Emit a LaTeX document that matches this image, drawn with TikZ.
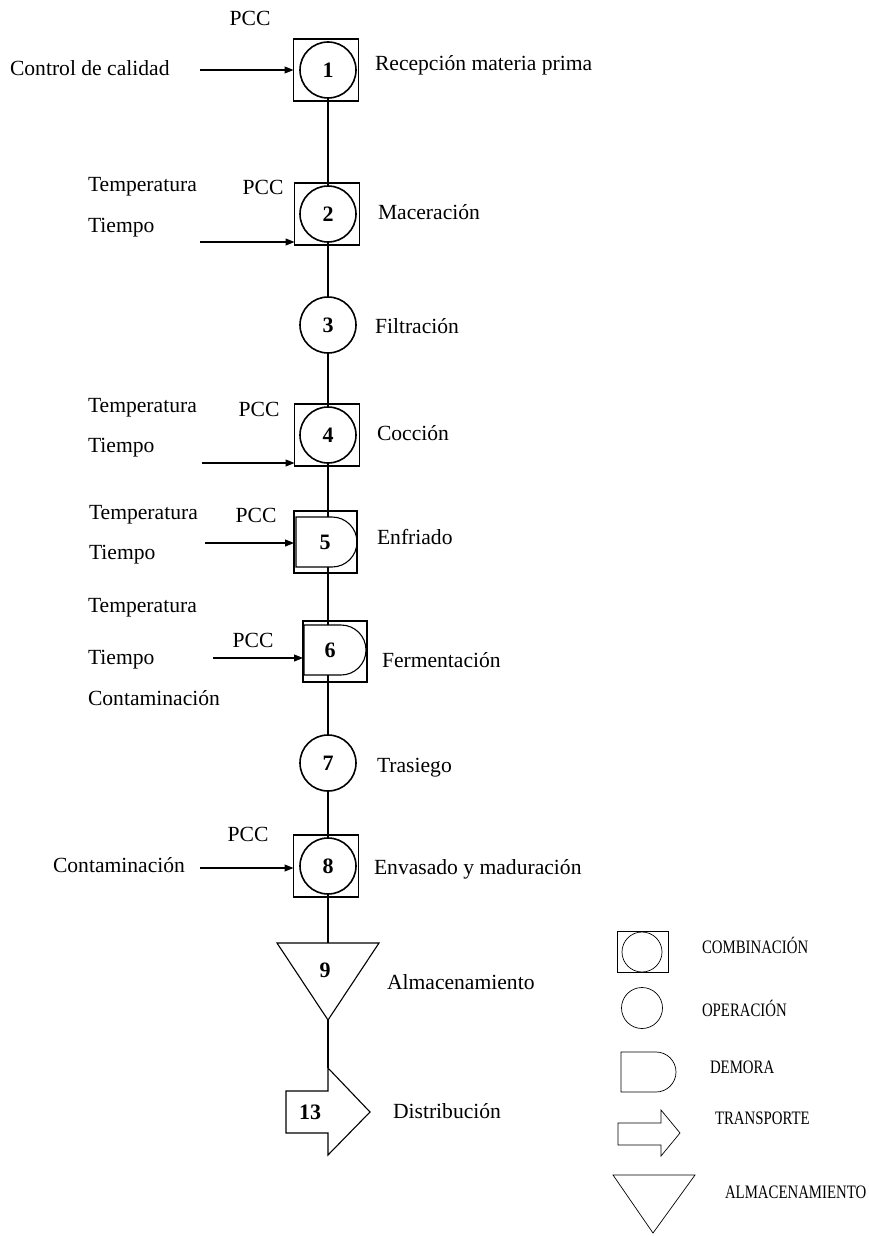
\documentclass[tikz,border=0pt]{standalone}
\usepackage{fontspec}
\setmainfont{Liberation Serif}
\usepackage{graphicx}
\usetikzlibrary{arrows.meta}
\begin{document}
\begin{tikzpicture}[x=1pt,y=-1pt,
  every node/.style={inner sep=0pt,outer sep=0pt},
  txt/.style={font=\fontsize{21.6}{24}\selectfont,anchor=west},
  pcc/.style={font=\fontsize{21.6}{24}\selectfont},
  num/.style={font=\fontsize{22}{24}\selectfont\bfseries},
  op/.style={circle,draw,line width=1.6pt,minimum size=56pt,num},
  sq/.style={draw,line width=1.1pt,minimum width=65pt,minimum height=62pt},
  shp/.style={draw,line width=1.1pt},
  conn/.style={line width=1.1pt},
  arr/.style={line width=1.1pt,-{Triangle[length=9pt,width=7pt]}},
  leg/.style={draw,line width=0.7pt},
  legtxt/.style={font=\fontsize{19}{22}\selectfont,anchor=west}]
\useasboundingbox (0,0) rectangle (868,1236);
% node 1
\node[sq] (s1) at (326,70) {};
\node[op] (c1) at (328,70) {1};
\node[pcc] (p1) at (250,18) {PCC};
\node[txt] (t1) at (10,68) {Control de calidad};
\node[txt] (l1) at (375,65) {Recepción materia prima};
\coordinate (a1) at (200,70);
\draw[arr] (a1) -- (a1 -| s1.west);
% node 2
\node[sq] (s2) at (327,214) {};
\node[op] (c2) at (328,214) {2};
\node[pcc] (p2) at (263,187) {PCC};
\node[txt] (t2a) at (88,187) {Temperatura};
\node[txt] (t2b) at (88,228) {Tiempo};
\node[txt] (l2) at (378,212) {Maceración};
\coordinate (a2) at (200,242);
\draw[arr] (a2) -- (a2 -| s2.west);
% node 3
\node[op] (c3) at (328,325) {3};
\node[txt] (l3) at (375,326) {Filtración};
% node 4
\node[sq] (s4) at (327,435) {};
\node[op] (c4) at (328,435) {4};
\node[pcc] (p4) at (259,409) {PCC};
\node[txt] (t4a) at (88,408) {Temperatura};
\node[txt] (t4b) at (88,448) {Tiempo};
\node[txt] (l4) at (377,433) {Cocción};
\coordinate (a4) at (202,463);
\draw[arr] (a4) -- (a4 -| s4.west);
% node 5
\node[sq,minimum width=63pt] (s5) at (325.5,542) {};
\draw[shp] (296,517) -- (332,517) arc[start angle=90,end angle=-90,radius=25pt] -- (296,567) -- cycle;
\node[num] (c5) at (325,542) {5};
\coordinate (d5t) at (328,517);
\coordinate (d5b) at (328,567);
\node[pcc] (p5) at (256,515) {PCC};
\node[txt] (t5a) at (89,515) {Temperatura};
\node[txt] (t5b) at (89,555) {Tiempo};
\node[txt] (l5) at (377,537) {Enfriado};
\coordinate (a5) at (205,543);
\draw[arr] (a5) -- (a5 -| s5.west);
% node 6
\node[sq,minimum width=64pt,minimum height=61pt] (s6) at (335,651.5) {};
\draw[shp] (304,625) -- (341,625) arc[start angle=90,end angle=-90,radius=25pt] -- (304,675) -- cycle;
\node[num] (c6) at (330,650) {6};
\coordinate (d6t) at (328,625);
\coordinate (d6b) at (328,675);
\node[pcc] (p6) at (253,640) {PCC};
\node[txt] (t6a) at (88,608) {Temperatura};
\node[txt] (t6b) at (88,660) {Tiempo};
\node[txt] (t6c) at (88,698) {Contaminación};
\node[txt] (l6) at (382,660) {Fermentación};
\coordinate (a6) at (213,658);
\draw[arr] (a6) -- (a6 -| s6.west);
% node 7
\node[op] (c7) at (328,763) {7};
\node[txt] (l7) at (377,768) {Trasiego};
% node 8
\node[sq] (s8) at (326,866) {};
\node[op] (c8) at (328,866) {8};
\node[pcc] (p8) at (248,834) {PCC};
\node[txt] (t8) at (53,865) {Contaminación};
\node[txt] (l8) at (374,869) {Envasado y maduración};
\coordinate (a8) at (200,868);
\draw[arr] (a8) -- (a8 -| s8.west);
% node 9
\draw[shp] (277,943) -- (379,943) -- (328,1020) -- cycle;
\coordinate (n9t) at (328,943);
\coordinate (n9b) at (328,1020);
\node[num] (c9) at (325,970) {9};
\node[txt] (l9) at (387,982) {Almacenamiento};
% node 13
\draw[shp] (286,1091) -- (328,1091) -- (328,1068) -- (370,1112) -- (328,1155) -- (328,1133) -- (286,1133) -- cycle;
\coordinate (n13t) at (328,1068);
\node[num] (c13) at (310,1112) {13};
\node[txt] (l13) at (393,1111) {Distribución};
% connectors
\draw[conn] (c1.south) -- (c2.north);
\draw[conn] (c2.south) -- (c3.north);
\draw[conn] (c3.south) -- (c4.north);
\draw[conn] (c4.south) -- (d5t);
\draw[conn] (d5b) -- (d6t);
\draw[conn] (d6b) -- (c7.north);
\draw[conn] (c7.south) -- (c8.north);
\draw[conn] (c8.south) -- (n9t);
\draw[conn] (n9b) -- (n13t);
% legend
\node[leg,minimum width=51pt,minimum height=41pt] (ls) at (642.5,951.5) {};
\node[leg,circle,minimum size=40pt] (lc) at (642,952) {};
\node[legtxt] (lt1) at (702,945) {\scalebox{0.78}[1]{COMBINACIÓN}};
\node[leg,circle,minimum size=41pt] (lo) at (642,1008) {};
\node[legtxt] (lt2) at (702,1008) {\scalebox{0.78}[1]{OPERACIÓN}};
\draw[leg] (621,1052) -- (656,1052) arc[start angle=90,end angle=-90,radius=20pt] -- (621,1092) -- cycle;
\node[legtxt] (lt3) at (710,1067) {\scalebox{0.78}[1]{DEMORA}};
\draw[leg] (618,1123) -- (661,1123) -- (661,1110) -- (680,1133) -- (661,1156) -- (661,1145) -- (618,1145) -- cycle;
\node[legtxt] (lt4) at (715,1118) {\scalebox{0.78}[1]{TRANSPORTE}};
\draw[leg] (613,1175) -- (695,1175) -- (653,1233) -- cycle;
\node[legtxt] (lt5) at (725,1192) {\scalebox{0.78}[1]{ALMACENAMIENTO}};
\end{tikzpicture}
\end{document}
